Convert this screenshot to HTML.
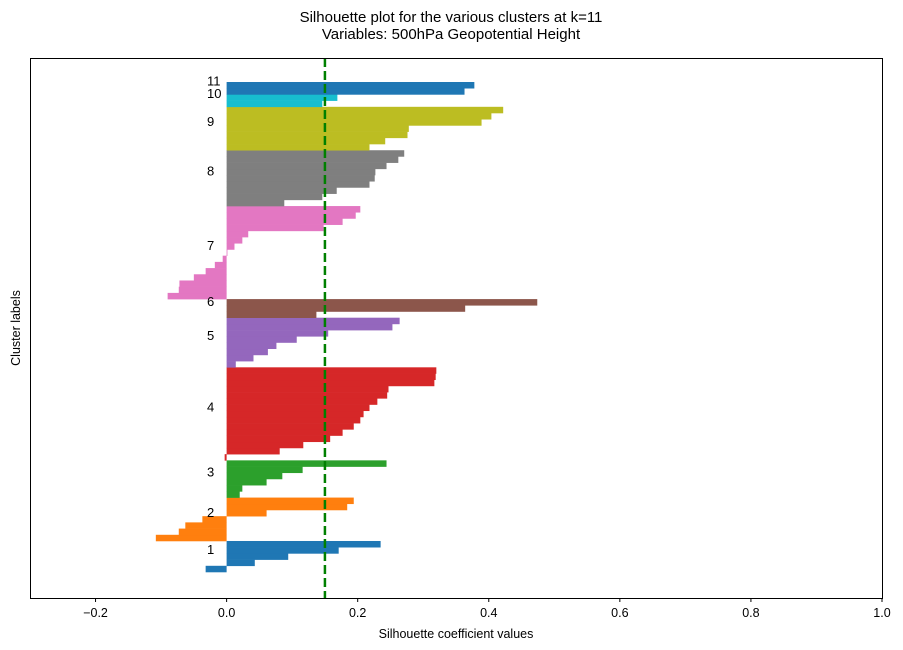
<!DOCTYPE html>
<html><head><meta charset="utf-8"><style>
body{margin:0;background:#fff;}
svg{display:block;font-family:"Liberation Sans","DejaVu Sans",sans-serif;}
</style></head><body>
<svg id="chart" width="903" height="650">
<rect width="903" height="650" fill="#fff"/>
<text x="451" y="22" text-anchor="middle" font-size="15">Silhouette plot for the various clusters at k=11</text>
<text x="451" y="39" text-anchor="middle" font-size="15">Variables: 500hPa Geopotential Height</text>
<g id="bars"></g>
<g id="labels"></g>
<g id="xticks"></g>
<rect x="30.5" y="58.5" width="852" height="540" fill="none" stroke="#000" stroke-width="1"/>
<text x="456" y="638" text-anchor="middle" font-size="12.5">Silhouette coefficient values</text>
<text transform="translate(20,328) rotate(-90)" text-anchor="middle" font-size="12.5">Cluster labels</text>
</svg>
<script>
const clusterNames = ["1","2","3","4","5","6","7","8","9","10","11"];
const clusterColors = ["#1f77b4","#ff7f0e","#2ca02c","#d62728","#9467bd","#8c564b","#e377c2","#7f7f7f","#bcbd22","#17becf","#1f77b4"];
// values listed bottom-to-top within each cluster
const c1 = [-0.032,0.043,0.094,0.171,0.235];
const c2 = [-0.108,-0.073,-0.063,-0.037,0.061,0.184,0.194];
const c3 = [0.020,0.024,0.061,0.085,0.116,0.244];
const c4 = [-0.003,0.081,0.117,0.158,0.177,0.194,0.204,0.209,0.218,0.230,0.245,0.247,0.317,0.319,0.320];
const c5 = [0.014,0.041,0.063,0.076,0.107,0.155,0.253,0.264];
const c6 = [0.137,0.364,0.474];
const c7 = [-0.090,-0.073,-0.072,-0.050,-0.032,-0.018,-0.006,0.0,0.012,0.024,0.033,0.148,0.177,0.197,0.204];
const c8 = [0.088,0.146,0.168,0.218,0.226,0.227,0.244,0.262,0.271];
const c9 = [0.218,0.242,0.276,0.278,0.389,0.404,0.422];
const c10 = [0.146,0.169];
const c11 = [0.363,0.378];
const clusters = [c1,c2,c3,c4,c5,c6,c7,c8,c9,c10,c11];
const avgScore = 0.15;
const xTicks = [-0.2,0.0,0.2,0.4,0.6,0.8,1.0];
const xTickLabels = ["\u22120.2","0.0","0.2","0.4","0.6","0.8","1.0"];

const NS="http://www.w3.org/2000/svg";
const xMin=-0.3,xMax=1.0,pxL=30,pxR=882;
const xs=v=>pxL+(v-xMin)/(xMax-xMin)*(pxR-pxL);
const unit=(572-82)/79, yBase=572;
const ys=u=>yBase-u*unit;
const bars=document.getElementById('bars');
const labels=document.getElementById('labels');
let u=0;
clusters.forEach((vals,ci)=>{
  const start=u;
  vals.forEach((v,i)=>{
    const r=document.createElementNS(NS,'rect');
    const x0=xs(Math.min(0,v)),x1=xs(Math.max(0,v));
    const yt=ys(u+1),yb=ys(u);
    r.setAttribute('x',x0);r.setAttribute('width',Math.max(x1-x0,0.8));
    r.setAttribute('y',yt);r.setAttribute('height',yb-yt+0.3);
    r.setAttribute('fill',clusterColors[ci]);
    
    
    bars.appendChild(r);
    u++;
  });
  const t=document.createElementNS(NS,'text');
  t.setAttribute('x',207);
  t.setAttribute('y',ys((start+u)/2)-7+4.5);
  t.setAttribute('font-size','13');
  t.textContent=clusterNames[ci];
  
  
  labels.appendChild(t);
});
const line=document.createElementNS(NS,'line');
line.setAttribute('x1',xs(avgScore));line.setAttribute('x2',xs(avgScore));
line.setAttribute('y1',58);line.setAttribute('y2',598);
line.setAttribute('stroke','#008000');line.setAttribute('stroke-width','2.5');
line.setAttribute('stroke-dasharray','9 4');


bars.appendChild(line);
const xt=document.getElementById('xticks');
xTicks.forEach((v,i)=>{
  const tk=document.createElementNS(NS,'line');
  tk.setAttribute('x1',xs(v));tk.setAttribute('x2',xs(v));
  tk.setAttribute('y1',598);tk.setAttribute('y2',602);
  tk.setAttribute('stroke','#000');
  
  
  xt.appendChild(tk);
  const t=document.createElementNS(NS,'text');
  t.setAttribute('x',xs(v));t.setAttribute('y',617);
  t.setAttribute('text-anchor','middle');t.setAttribute('font-size','12.5');
  t.textContent=xTickLabels[i];
  
  
  xt.appendChild(t);
});
</script>
</body></html>
